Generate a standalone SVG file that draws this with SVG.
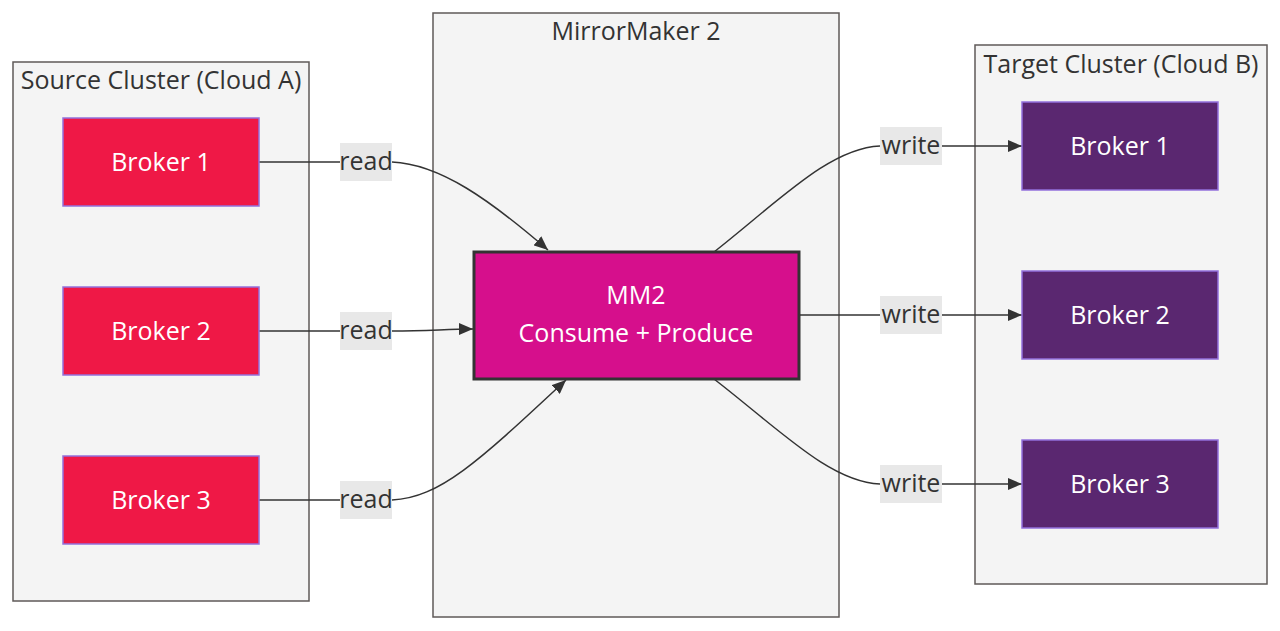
<svg xmlns="http://www.w3.org/2000/svg" width="1280" height="631" viewBox="0 0 1280 631">
<defs>
<style>
.cluster{fill:#f4f4f4;stroke:#5f5a58;stroke-width:1.5}
.ctitle{font-family:"Open Sans","Noto Sans",sans-serif;font-size:25px;fill:#333;text-anchor:middle}
.src{fill:#ef1846;stroke:#9370db;stroke-width:1.5}
.tgt{fill:#5a2770;stroke:#9370db;stroke-width:1.5}
.mm{fill:#d60f8c;stroke:#333;stroke-width:3}
.ntext{font-family:"Open Sans","Noto Sans",sans-serif;font-size:25px;fill:#fff;text-anchor:middle}
.edge{fill:none;stroke:#333;stroke-width:1.5}
.lbg{fill:#e8e8e8}
.ltext{font-family:"Open Sans","Noto Sans",sans-serif;font-size:25px;fill:#333;text-anchor:middle}
</style>
<marker id="arrowL" viewBox="0 0 14 12" refX="14" refY="6" markerWidth="14" markerHeight="12" markerUnits="userSpaceOnUse" orient="auto">
<path d="M0,0 L14,6 L0,12 z" fill="#333"/>
</marker>
</defs>
<rect width="1280" height="631" fill="#fff"/>

<g id="cluster-source">
<rect class="cluster" x="13" y="62" width="296" height="539"/>
<text class="ctitle" x="161" y="89">Source Cluster (Cloud A)</text>
</g>
<g id="cluster-mm">
<rect class="cluster" x="433" y="13" width="406" height="604"/>
<text class="ctitle" x="636" y="40">MirrorMaker 2</text>
</g>
<g id="cluster-target">
<rect class="cluster" x="975" y="45" width="292" height="539"/>
<text class="ctitle" x="1121" y="73">Target Cluster (Cloud B)</text>
</g>

<g id="connectors">
<path class="edge" d="M259,162 L340,162"/>
<path class="edge" d="M392,162 C440,164 490,200 548,250" marker-end="url(#arrowL)"/>
<path class="edge" d="M259,331 L340,331"/>
<path class="edge" d="M392,331 C430,331 445,329 473,329" marker-end="url(#arrowL)"/>
<path class="edge" d="M259,500 L340,500"/>
<path class="edge" d="M392,500 C440,498 480,460 566,380" marker-end="url(#arrowL)"/>
<path class="edge" d="M714,252 C780,200 830,148 880,146"/>
<path class="edge" d="M942,146 L1022,146" marker-end="url(#arrowL)"/>
<path class="edge" d="M799,315 L880,315"/>
<path class="edge" d="M942,315 L1022,315" marker-end="url(#arrowL)"/>
<path class="edge" d="M714,379 C780,430 830,482 880,484"/>
<path class="edge" d="M942,484 L1022,484" marker-end="url(#arrowL)"/>
</g>

<g id="edge-labels">
<rect class="lbg" x="340" y="143" width="52" height="38"/>
<text class="ltext" x="366" y="170">read</text>
<rect class="lbg" x="340" y="312" width="52" height="38"/>
<text class="ltext" x="366" y="339">read</text>
<rect class="lbg" x="340" y="481" width="52" height="38"/>
<text class="ltext" x="366" y="508">read</text>
<rect class="lbg" x="880" y="127" width="62" height="38"/>
<text class="ltext" x="911" y="154">write</text>
<rect class="lbg" x="880" y="296" width="62" height="38"/>
<text class="ltext" x="911" y="323">write</text>
<rect class="lbg" x="880" y="465" width="62" height="38"/>
<text class="ltext" x="911" y="492">write</text>
</g>

<g id="src-broker1">
<rect class="src" x="63" y="118" width="196" height="88"/>
<text class="ntext" x="161" y="171">Broker 1</text>
</g>
<g id="src-broker2">
<rect class="src" x="63" y="287" width="196" height="88"/>
<text class="ntext" x="161" y="340">Broker 2</text>
</g>
<g id="src-broker3">
<rect class="src" x="63" y="456" width="196" height="88"/>
<text class="ntext" x="161" y="509">Broker 3</text>
</g>

<g id="mm2">
<rect class="mm" x="474" y="252" width="325" height="127"/>
<text class="ntext" x="636" y="304">MM2</text>
<text class="ntext" x="636" y="342">Consume + Produce</text>
</g>

<g id="tgt-broker1">
<rect class="tgt" x="1022" y="102" width="196" height="88"/>
<text class="ntext" x="1120" y="155">Broker 1</text>
</g>
<g id="tgt-broker2">
<rect class="tgt" x="1022" y="271" width="196" height="88"/>
<text class="ntext" x="1120" y="324">Broker 2</text>
</g>
<g id="tgt-broker3">
<rect class="tgt" x="1022" y="440" width="196" height="88"/>
<text class="ntext" x="1120" y="493">Broker 3</text>
</g>
</svg>
